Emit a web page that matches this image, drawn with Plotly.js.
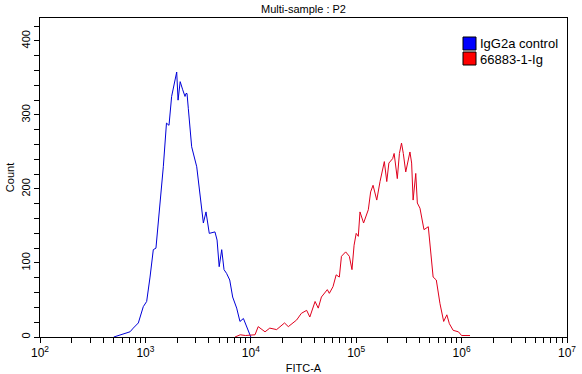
<!DOCTYPE html>
<html>
<head>
<meta charset="utf-8">
<script src="https://cdn.plot.ly/plotly-3.0.1.min.js"></script>
<style>html,body{margin:0;padding:0;background:#fff;}#chart{width:582px;height:374px;}</style>
</head>
<body>
<div id="chart"></div>
<script>
// FITC-A values given as log10 exponents, counts
const seriesNames = ["IgG2a control", "66883-1-Ig"];
const seriesColors = ["#0000ff", "#ff0000"];
const blueLogFITC = [2.70,2.76,2.80,2.854,2.885,2.933,2.98,3.012,3.044,3.075,3.10,3.139,3.17,3.20,3.224,3.249,3.28,3.297,3.31,3.33,3.354,3.376,3.385,3.395,3.407,3.439,3.487,3.51,3.534,3.55,3.575,3.606,3.66,3.68,3.70,3.724,3.746,3.77,3.80,3.828,3.866,3.897,3.93,3.96,3.99,4.00];
const blueCount   = [0,3,5,7,12,19,41,48,81,118,120,181,230,289,286,325,345,358,320,345,334,325,329,329,309,257,230,203,167,154,169,140,142,131,95,118,91,86,77,54,39,21,25,14,3,0];
const redLogFITC = [3.85,3.90,3.95,4.00,4.04,4.07,4.135,4.18,4.245,4.32,4.356,4.435,4.48,4.53,4.56,4.61,4.64,4.67,4.726,4.745,4.78,4.81,4.84,4.86,4.90,4.935,4.96,4.98,5.00,5.02,5.036,5.07,5.115,5.137,5.16,5.195,5.226,5.267,5.29,5.31,5.346,5.36,5.39,5.41,5.43,5.447,5.47,5.51,5.526,5.54,5.565,5.58,5.605,5.643,5.684,5.73,5.76,5.795,5.83,5.86,5.884,5.92,5.97,6.00,6.04,6.08];
const redCount   = [0,3,2,3,3,14,7,12,10,19,14,23,32,36,27,48,39,54,64,59,68,84,81,109,115,109,91,124,140,136,169,154,172,196,205,185,210,237,210,235,241,248,214,248,262,248,223,250,235,185,221,181,174,145,149,81,77,45,21,30,18,9,7,2,2,2];
const xMajorExp = [2,3,4,5,6,7];
const yMajor = [0,100,200,300,400];

const pow10 = a => a.map(v => Math.pow(10, v));

// tick lists (majors labelled, minors blank)
const xTickVals = [], xTickText = [];
xMajorExp.forEach((e, i) => {
  xTickVals.push(Math.pow(10, e)); xTickText.push('10<sup>' + e + '</sup>');
  if (i < xMajorExp.length - 1) for (let m = 2; m <= 9; m++) { xTickVals.push(m * Math.pow(10, e)); xTickText.push(''); }
});
const yTickVals = [], yTickText = [];
for (let v = 0; v <= 420; v += 20) { yTickVals.push(v); yTickText.push(yMajor.includes(v) ? String(v) : ''); }

const blueLine = '#0000d8', redLine = '#e0001c';
const traces = [
  {x: pow10(blueLogFITC), y: blueCount, name: seriesNames[0], mode: 'lines', line: {color: blueLine, width: 1}, showlegend: false, hoverinfo: 'skip'},
  {x: pow10(redLogFITC), y: redCount, name: seriesNames[1], mode: 'lines', line: {color: redLine, width: 1}, showlegend: false, hoverinfo: 'skip'}
];

const font = {family: 'Liberation Sans, Arial, sans-serif', color: '#000'};

// legend drawn as paper-space boxes + labels (plot area: x 40..567, y 18..337 px)
const W = 582, H = 374, M = {l: 40, r: 15, t: 18, b: 37};
const px = v => (v - M.l) / (W - M.l - M.r);
const py = v => (H - M.b - v) / (H - M.t - M.b);
const legTop = 37, legRow = 15, boxW = 13, boxH = 13, legLeft = 463;
const shapes = [], annotations = [];
seriesNames.forEach((name, i) => {
  const top = legTop + i * legRow;
  shapes.push({type: 'rect', xref: 'paper', yref: 'paper', x0: px(legLeft), x1: px(legLeft + boxW), y0: py(top + boxH), y1: py(top),
    fillcolor: seriesColors[i], line: {color: '#000', width: 1}});
  annotations.push({xref: 'paper', yref: 'paper', x: px(legLeft + boxW + 3), y: py(top + boxH / 2 + 0.5), xanchor: 'left', yanchor: 'middle',
    text: name, showarrow: false, font: Object.assign({size: 13}, font), borderpad: 0});
});

const layout = {
  width: W, height: H,
  margin: M,
  paper_bgcolor: '#fff', plot_bgcolor: '#fff',
  font: Object.assign({size: 11}, font),
  title: {text: 'Multi-sample : P2', font: Object.assign({size: 11}, font), x: 0.5, xref: 'paper', y: 0.975, yanchor: 'middle'},
  xaxis: {
    type: 'log', range: [2, 7], tickmode: 'array', tickvals: xTickVals, ticktext: xTickText,
    ticks: 'outside', ticklen: 5, tickcolor: '#000', showgrid: false, zeroline: false,
    showline: true, mirror: true, linecolor: '#000', linewidth: 1,
    tickfont: Object.assign({size: 12}, font),
    title: {text: 'FITC-A', font: Object.assign({size: 11}, font), standoff: 4}
  },
  yaxis: {
    range: [0, 431], tickmode: 'array', tickvals: yTickVals, ticktext: yTickText,
    ticks: 'outside', ticklen: 5, tickcolor: '#000', showgrid: false, zeroline: false,
    showline: true, mirror: true, linecolor: '#000', linewidth: 1, tickangle: -90,
    tickfont: Object.assign({size: 11}, font),
    title: {text: 'Count', font: Object.assign({size: 11}, font), standoff: 2}
  },
  showlegend: false,
  shapes: shapes,
  annotations: annotations
};

Plotly.newPlot('chart', traces, layout, {staticPlot: true, displayModeBar: false});
</script>
</body>
</html>
